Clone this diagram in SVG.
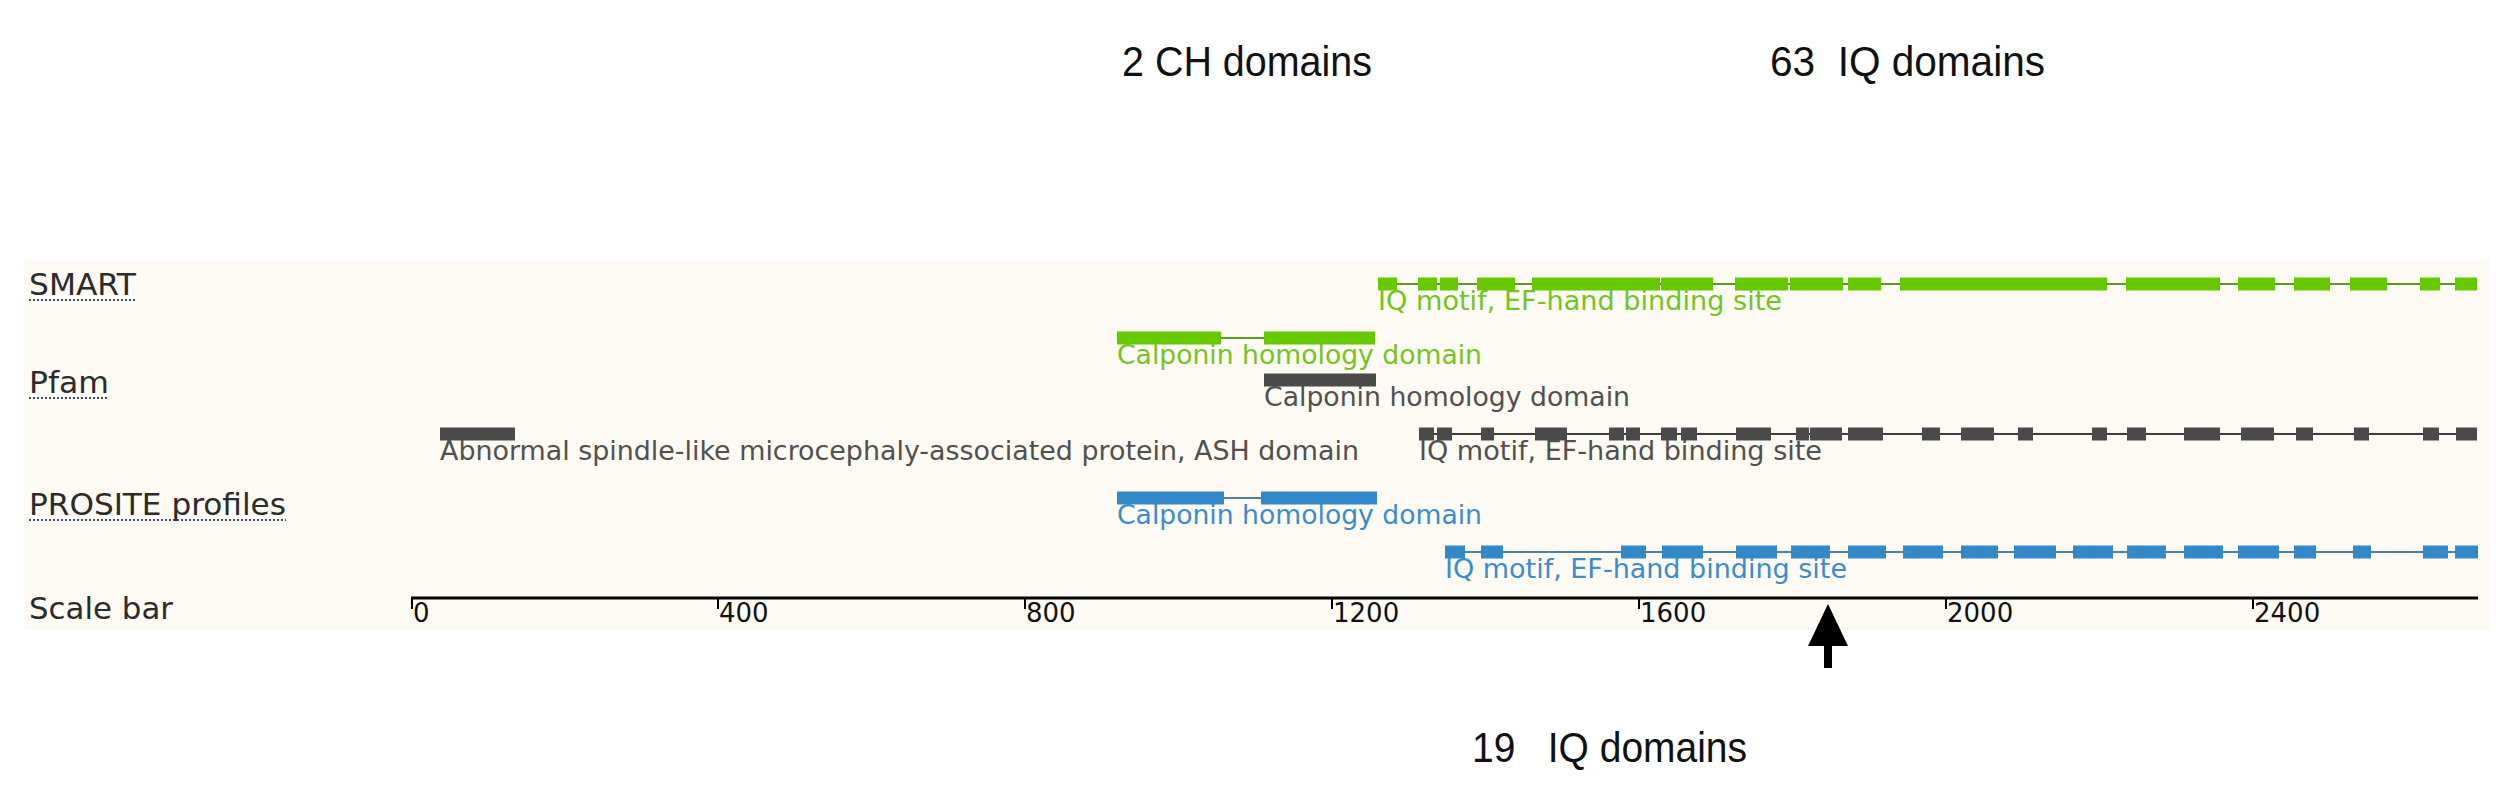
<svg xmlns="http://www.w3.org/2000/svg" width="2513" height="790" viewBox="0 0 2513 790">
<style>
.track{font-family:"DejaVu Sans",sans-serif;font-size:30px;fill:#2b2b2b}
.ul{stroke:#3a4a7a;stroke-width:2;stroke-dasharray:2 2}
.lbl{font-family:"DejaVu Sans",sans-serif;font-size:26px}
.ann{font-family:"Liberation Sans",Arial,sans-serif;font-size:43px;fill:#111}
.tick{font-family:"DejaVu Sans",sans-serif;font-size:26px;fill:#111}
.smart rect{fill:#66c800}
.smart line{stroke:#5a9a20;stroke-width:2}
.smart text{fill:#74c424}
.pfam rect{fill:#4a4a4a}
.pfam line{stroke:#3c3c3c;stroke-width:2}
.pfam text{fill:#505050}
.prosite rect{fill:#3288c8}
.prosite line{stroke:#4f7fa3;stroke-width:2}
.prosite text{fill:#3b8ccc}
</style>
<rect x="0" y="0" width="2513" height="790" fill="#ffffff"/>
<rect x="24" y="260" width="2466" height="370" fill="#fcfaf2"/>

<g id="annotations">
<text class="ann" x="1122" y="76" textLength="250" lengthAdjust="spacingAndGlyphs">2 CH domains</text>
<text class="ann" x="1770" y="76" textLength="275" lengthAdjust="spacingAndGlyphs" xml:space="preserve">63  IQ domains</text>
<text class="ann" x="1472" y="762" textLength="275" lengthAdjust="spacingAndGlyphs" xml:space="preserve">19   IQ domains</text>
</g>

<g id="track-labels">
<text class="track" x="29" y="295" textLength="107" lengthAdjust="spacingAndGlyphs">SMART</text>
<line class="ul" x1="29" y1="300" x2="136" y2="300"/>
<text class="track" x="29" y="393" textLength="80" lengthAdjust="spacingAndGlyphs">Pfam</text>
<line class="ul" x1="29" y1="398" x2="109" y2="398"/>
<text class="track" x="29" y="515" textLength="257" lengthAdjust="spacingAndGlyphs">PROSITE profiles</text>
<line class="ul" x1="29" y1="520" x2="286" y2="520"/>
<text class="track" x="29" y="619" textLength="144" lengthAdjust="spacingAndGlyphs">Scale bar</text>
</g>

<g id="smart-iq" class="smart">
<line x1="1378" y1="284" x2="2477" y2="284"/>
<rect x="1378" y="277.5" width="19" height="13"/>
<rect x="1418" y="277.5" width="19" height="13"/>
<rect x="1440" y="277.5" width="18" height="13"/>
<rect x="1477" y="277.5" width="38" height="13"/>
<rect x="1532" y="277.5" width="128" height="13"/>
<rect x="1661" y="277.5" width="52" height="13"/>
<rect x="1735" y="277.5" width="53" height="13"/>
<rect x="1790" y="277.5" width="53" height="13"/>
<rect x="1848" y="277.5" width="33" height="13"/>
<rect x="1900" y="277.5" width="207" height="13"/>
<rect x="2126" y="277.5" width="94" height="13"/>
<rect x="2238" y="277.5" width="37" height="13"/>
<rect x="2294" y="277.5" width="36" height="13"/>
<rect x="2350" y="277.5" width="37" height="13"/>
<rect x="2420" y="277.5" width="20" height="13"/>
<rect x="2455" y="277.5" width="22" height="13"/>
<text class="lbl" x="1378" y="310" textLength="404" lengthAdjust="spacingAndGlyphs">IQ motif, EF-hand binding site</text>
</g>

<g id="smart-ch" class="smart">
<line x1="1117" y1="338" x2="1375" y2="338"/>
<rect x="1117" y="331.5" width="104" height="13"/>
<rect x="1264" y="331.5" width="111" height="13"/>
<text class="lbl" x="1117" y="364" textLength="365" lengthAdjust="spacingAndGlyphs">Calponin homology domain</text>
</g>

<g id="pfam-ch" class="pfam">
<rect x="1264" y="373.5" width="112" height="13"/>
<text class="lbl" x="1264" y="406" textLength="366" lengthAdjust="spacingAndGlyphs">Calponin homology domain</text>
</g>

<g id="pfam-ash" class="pfam">
<rect x="440" y="427.5" width="75" height="13"/>
<text class="lbl" x="440" y="460" textLength="919" lengthAdjust="spacingAndGlyphs">Abnormal spindle-like microcephaly-associated protein, ASH domain</text>
</g>

<g id="pfam-iq" class="pfam">
<line x1="1419" y1="434" x2="2477" y2="434"/>
<rect x="1419" y="427.5" width="15" height="13"/>
<rect x="1437" y="427.5" width="15" height="13"/>
<rect x="1481" y="427.5" width="13" height="13"/>
<rect x="1535" y="427.5" width="32" height="13"/>
<rect x="1609" y="427.5" width="15" height="13"/>
<rect x="1626" y="427.5" width="14" height="13"/>
<rect x="1661" y="427.5" width="16" height="13"/>
<rect x="1681" y="427.5" width="16" height="13"/>
<rect x="1736" y="427.5" width="35" height="13"/>
<rect x="1796" y="427.5" width="13" height="13"/>
<rect x="1810" y="427.5" width="32" height="13"/>
<rect x="1848" y="427.5" width="35" height="13"/>
<rect x="1922" y="427.5" width="18" height="13"/>
<rect x="1961" y="427.5" width="33" height="13"/>
<rect x="2018" y="427.5" width="15" height="13"/>
<rect x="2092" y="427.5" width="15" height="13"/>
<rect x="2127" y="427.5" width="19" height="13"/>
<rect x="2184" y="427.5" width="36" height="13"/>
<rect x="2241" y="427.5" width="33" height="13"/>
<rect x="2296" y="427.5" width="17" height="13"/>
<rect x="2354" y="427.5" width="15" height="13"/>
<rect x="2423" y="427.5" width="16" height="13"/>
<rect x="2456" y="427.5" width="21" height="13"/>
<text class="lbl" x="1419" y="460" textLength="403" lengthAdjust="spacingAndGlyphs">IQ motif, EF-hand binding site</text>
</g>

<g id="prosite-ch" class="prosite">
<line x1="1117" y1="498" x2="1377" y2="498"/>
<rect x="1117" y="491.5" width="107" height="13"/>
<rect x="1261" y="491.5" width="116" height="13"/>
<text class="lbl" x="1117" y="524" textLength="365" lengthAdjust="spacingAndGlyphs">Calponin homology domain</text>
</g>

<g id="prosite-iq" class="prosite">
<line x1="1445" y1="552" x2="2478" y2="552"/>
<rect x="1445" y="545.5" width="20" height="13"/>
<rect x="1481" y="545.5" width="22" height="13"/>
<rect x="1621" y="545.5" width="25" height="13"/>
<rect x="1662" y="545.5" width="41" height="13"/>
<rect x="1736" y="545.5" width="41" height="13"/>
<rect x="1791" y="545.5" width="39" height="13"/>
<rect x="1848" y="545.5" width="38" height="13"/>
<rect x="1903" y="545.5" width="40" height="13"/>
<rect x="1961" y="545.5" width="37" height="13"/>
<rect x="2014" y="545.5" width="42" height="13"/>
<rect x="2073" y="545.5" width="40" height="13"/>
<rect x="2127" y="545.5" width="39" height="13"/>
<rect x="2184" y="545.5" width="39" height="13"/>
<rect x="2238" y="545.5" width="41" height="13"/>
<rect x="2294" y="545.5" width="22" height="13"/>
<rect x="2353" y="545.5" width="18" height="13"/>
<rect x="2423" y="545.5" width="25" height="13"/>
<rect x="2455" y="545.5" width="23" height="13"/>
<text class="lbl" x="1445" y="578" textLength="402" lengthAdjust="spacingAndGlyphs">IQ motif, EF-hand binding site</text>
</g>

<g id="scale-bar">
<line x1="411" y1="598" x2="2478" y2="598" stroke="#000" stroke-width="3"/>
<g stroke="#000" stroke-width="2">
<line x1="412" y1="598" x2="412" y2="609"/>
<line x1="718" y1="598" x2="718" y2="609"/>
<line x1="1025" y1="598" x2="1025" y2="609"/>
<line x1="1332" y1="598" x2="1332" y2="609"/>
<line x1="1639" y1="598" x2="1639" y2="609"/>
<line x1="1946" y1="598" x2="1946" y2="609"/>
<line x1="2253" y1="598" x2="2253" y2="609"/>
</g>
<text class="tick" x="413" y="622">0</text>
<text class="tick" x="719" y="622">400</text>
<text class="tick" x="1026" y="622">800</text>
<text class="tick" x="1333" y="622">1200</text>
<text class="tick" x="1640" y="622">1600</text>
<text class="tick" x="1947" y="622">2000</text>
<text class="tick" x="2254" y="622">2400</text>
</g>

<g id="connectors">
<polygon points="1828,604 1848,646 1808,646" fill="#000"/>
<rect x="1824" y="645" width="8" height="23" fill="#000"/>
</g>
</svg>
